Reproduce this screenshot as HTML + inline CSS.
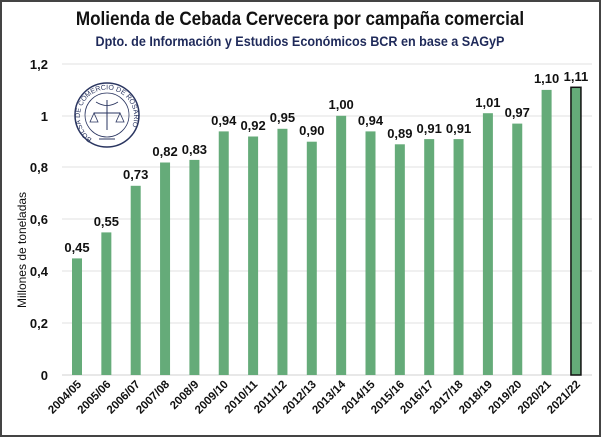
<!DOCTYPE html>
<html><head><meta charset="utf-8"><style>
html,body{margin:0;padding:0;background:#fff}
svg{display:block}
text{font-family:"Liberation Sans",sans-serif}
</style></head><body>
<svg width="601" height="437" viewBox="0 0 601 437" xmlns="http://www.w3.org/2000/svg">
<rect x="1" y="1" width="599" height="435" fill="#fff" stroke="#444" stroke-width="2"/>
<text x="300" y="25" text-anchor="middle" font-size="19" font-weight="bold" fill="#111" transform="translate(300 0) scale(0.9 1) translate(-300 0)">Molienda de Cebada Cervecera por campaña comercial</text>
<text x="300" y="46" text-anchor="middle" font-size="14" font-weight="bold" fill="#1f2a5a" transform="translate(300 0) scale(0.9 1) translate(-300 0)">Dpto. de Información y Estudios Económicos BCR en base a SAGyP</text>
<g stroke="#e0e0e0" stroke-width="1">
<line x1="62" x2="592" y1="64" y2="64"/><line x1="62" x2="592" y1="116" y2="116"/><line x1="62" x2="592" y1="167" y2="167"/><line x1="62" x2="592" y1="219" y2="219"/><line x1="62" x2="592" y1="271" y2="271"/><line x1="62" x2="592" y1="323" y2="323"/><line x1="62" x2="592" y1="375" y2="375" stroke="#d0d0d0"/>
</g>
<g font-size="13" font-weight="bold" fill="#111" text-anchor="end">
<text x="48" y="69">1,2</text><text x="48" y="121">1</text><text x="48" y="172">0,8</text><text x="48" y="224">0,6</text><text x="48" y="276">0,4</text><text x="48" y="328">0,2</text><text x="48" y="380">0</text>
</g>
<text transform="translate(26 250) rotate(-90)" text-anchor="middle" font-size="12" fill="#111">Millones de toneladas</text>
<defs><path id="lp" d="M 92 139 A 27 27 0 1 1 122 139"/></defs>
<g transform="translate(107 115)" fill="none" stroke="#2a3560">
<circle r="32" stroke-width="1.5"/><circle r="22" stroke-width="0.8"/>
<line x1="0" y1="-15" x2="0" y2="15"/><line x1="-13" y1="-2" x2="13" y2="-2"/>
<path d="M-13 -2 l-4 9 h8 z M13 -2 l-4 9 h8 z" stroke-width="0.8"/>
<path d="M-11 -13 q11 7 22 0" stroke-width="0.8"/>
<line x1="-8" y1="24" x2="8" y2="24"/>
</g>
<text font-size="7" fill="#2a3560"><textPath href="#lp">BOLSA DE COMERCIO DE ROSARIO</textPath></text>
<g fill="#65ab79">
<rect x="72" y="258.4" width="10" height="116.6"/>
<rect x="101.35" y="232.4" width="10" height="142.6"/>
<rect x="130.7" y="185.8" width="10" height="189.2"/>
<rect x="160.05" y="162.5" width="10" height="212.5"/>
<rect x="189.4" y="159.9" width="10" height="215.1"/>
<rect x="218.75" y="131.4" width="10" height="243.6"/>
<rect x="248.1" y="136.5" width="10" height="238.5"/>
<rect x="277.45" y="128.8" width="10" height="246.2"/>
<rect x="306.8" y="141.7" width="10" height="233.3"/>
<rect x="336.15" y="115.8" width="10" height="259.2"/>
<rect x="365.5" y="131.4" width="10" height="243.6"/>
<rect x="394.85" y="144.3" width="10" height="230.7"/>
<rect x="424.2" y="139.1" width="10" height="235.9"/>
<rect x="453.55" y="139.1" width="10" height="235.9"/>
<rect x="482.9" y="113.2" width="10" height="261.8"/>
<rect x="512.25" y="123.6" width="10" height="251.4"/>
<rect x="541.6" y="89.9" width="10" height="285.1"/>
<rect x="570.95" y="87.3" width="10" height="287.7" stroke="#111" stroke-width="1.5"/>
</g>
<g font-size="13" font-weight="bold" fill="#111" text-anchor="middle">
<text x="77" y="252">0,45</text>
<text x="106.35" y="226">0,55</text>
<text x="135.7" y="179">0,73</text>
<text x="165.05" y="156">0,82</text>
<text x="194.4" y="154">0,83</text>
<text x="223.75" y="125">0,94</text>
<text x="253.1" y="130">0,92</text>
<text x="282.45" y="122">0,95</text>
<text x="311.8" y="135">0,90</text>
<text x="341.15" y="109">1,00</text>
<text x="370.5" y="125">0,94</text>
<text x="399.85" y="138">0,89</text>
<text x="429.2" y="133">0,91</text>
<text x="458.55" y="133">0,91</text>
<text x="487.9" y="107">1,01</text>
<text x="517.25" y="117">0,97</text>
<text x="546.6" y="83">1,10</text>
<text x="575.95" y="81">1,11</text>
</g>
<g font-size="11.5" font-weight="bold" fill="#111" text-anchor="end">
<text transform="translate(82 385) rotate(-45)">2004/05</text>
<text transform="translate(111.35 385) rotate(-45)">2005/06</text>
<text transform="translate(140.7 385) rotate(-45)">2006/07</text>
<text transform="translate(170.05 385) rotate(-45)">2007/08</text>
<text transform="translate(199.4 385) rotate(-45)">2008/9</text>
<text transform="translate(228.75 385) rotate(-45)">2009/10</text>
<text transform="translate(258.1 385) rotate(-45)">2010/11</text>
<text transform="translate(287.45 385) rotate(-45)">2011/12</text>
<text transform="translate(316.8 385) rotate(-45)">2012/13</text>
<text transform="translate(346.15 385) rotate(-45)">2013/14</text>
<text transform="translate(375.5 385) rotate(-45)">2014/15</text>
<text transform="translate(404.85 385) rotate(-45)">2015/16</text>
<text transform="translate(434.2 385) rotate(-45)">2016/17</text>
<text transform="translate(463.55 385) rotate(-45)">2017/18</text>
<text transform="translate(492.9 385) rotate(-45)">2018/19</text>
<text transform="translate(522.25 385) rotate(-45)">2019/20</text>
<text transform="translate(551.6 385) rotate(-45)">2020/21</text>
<text transform="translate(580.95 385) rotate(-45)">2021/22</text>
</g>
</svg>
</body></html>
